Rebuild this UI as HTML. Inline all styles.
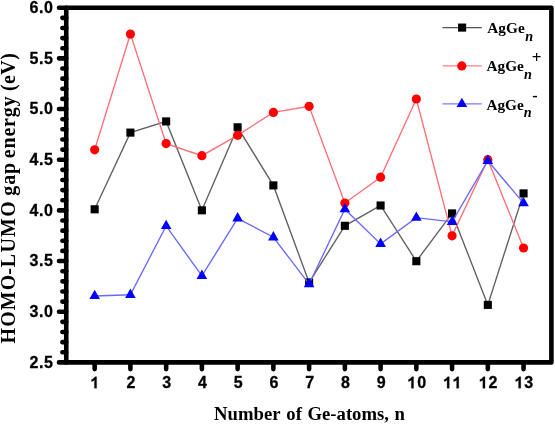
<!DOCTYPE html>
<html><head><meta charset="utf-8"><style>
html,body{margin:0;padding:0;background:#fff;}
body{width:555px;height:424px;overflow:hidden;}
svg{display:block;will-change:transform;filter:blur(0.35px);}
.tl{font-family:"Liberation Sans",sans-serif;font-weight:bold;font-size:16px;fill:#000;stroke:#000;stroke-width:0.3px;}
.ti{font-family:"Liberation Serif",serif;font-weight:bold;fill:#000;}
</style></head><body>
<svg width="555" height="424" viewBox="0 0 555 424">
<rect width="555" height="424" fill="#fff"/>

<polyline points="94.66,209.30 130.40,132.60 166.14,121.40 201.89,210.30 237.63,127.30 273.37,185.40 309.11,282.50 344.85,225.80 380.60,205.50 416.34,261.20 452.08,213.40 487.82,304.90 523.56,193.40" fill="none" stroke="#606060" stroke-width="1.35"/>
<rect x="90.61" y="205.25" width="8.1" height="8.1" fill="#000"/>
<rect x="126.35" y="128.55" width="8.1" height="8.1" fill="#000"/>
<rect x="162.09" y="117.35" width="8.1" height="8.1" fill="#000"/>
<rect x="197.84" y="206.25" width="8.1" height="8.1" fill="#000"/>
<rect x="233.58" y="123.25" width="8.1" height="8.1" fill="#000"/>
<rect x="269.32" y="181.35" width="8.1" height="8.1" fill="#000"/>
<rect x="305.06" y="278.45" width="8.1" height="8.1" fill="#000"/>
<rect x="340.80" y="221.75" width="8.1" height="8.1" fill="#000"/>
<rect x="376.55" y="201.45" width="8.1" height="8.1" fill="#000"/>
<rect x="412.29" y="257.15" width="8.1" height="8.1" fill="#000"/>
<rect x="448.03" y="209.35" width="8.1" height="8.1" fill="#000"/>
<rect x="483.77" y="300.85" width="8.1" height="8.1" fill="#000"/>
<rect x="519.51" y="189.35" width="8.1" height="8.1" fill="#000"/>
<polyline points="94.66,149.80 130.40,34.10 166.14,143.60 201.89,155.70 237.63,135.30 273.37,112.40 309.11,106.30 344.85,203.00 380.60,177.20 416.34,99.00 452.08,235.80 487.82,159.70 523.56,248.00" fill="none" stroke="#ff6e78" stroke-width="1.35"/>
<circle cx="94.66" cy="149.80" r="4.6" fill="#f00"/>
<circle cx="130.40" cy="34.10" r="4.6" fill="#f00"/>
<circle cx="166.14" cy="143.60" r="4.6" fill="#f00"/>
<circle cx="201.89" cy="155.70" r="4.6" fill="#f00"/>
<circle cx="237.63" cy="135.30" r="4.6" fill="#f00"/>
<circle cx="273.37" cy="112.40" r="4.6" fill="#f00"/>
<circle cx="309.11" cy="106.30" r="4.6" fill="#f00"/>
<circle cx="344.85" cy="203.00" r="4.6" fill="#f00"/>
<circle cx="380.60" cy="177.20" r="4.6" fill="#f00"/>
<circle cx="416.34" cy="99.00" r="4.6" fill="#f00"/>
<circle cx="452.08" cy="235.80" r="4.6" fill="#f00"/>
<circle cx="487.82" cy="159.70" r="4.6" fill="#f00"/>
<circle cx="523.56" cy="248.00" r="4.6" fill="#f00"/>
<polyline points="94.66,295.97 130.40,294.77 166.14,225.97 201.89,275.87 237.63,218.37 273.37,237.27 309.11,284.07 344.85,209.17 380.60,243.87 416.34,217.67 452.08,221.87 487.82,160.77 523.56,203.17" fill="none" stroke="#6868ff" stroke-width="1.35"/>
<path d="M94.66,289.70 L99.96,299.10 L89.36,299.10Z" fill="#00f"/>
<path d="M130.40,288.50 L135.70,297.90 L125.10,297.90Z" fill="#00f"/>
<path d="M166.14,219.70 L171.44,229.10 L160.84,229.10Z" fill="#00f"/>
<path d="M201.89,269.60 L207.19,279.00 L196.59,279.00Z" fill="#00f"/>
<path d="M237.63,212.10 L242.93,221.50 L232.33,221.50Z" fill="#00f"/>
<path d="M273.37,231.00 L278.67,240.40 L268.07,240.40Z" fill="#00f"/>
<path d="M309.11,277.80 L314.41,287.20 L303.81,287.20Z" fill="#00f"/>
<path d="M344.85,202.90 L350.15,212.30 L339.55,212.30Z" fill="#00f"/>
<path d="M380.60,237.60 L385.90,247.00 L375.30,247.00Z" fill="#00f"/>
<path d="M416.34,211.40 L421.64,220.80 L411.04,220.80Z" fill="#00f"/>
<path d="M452.08,215.60 L457.38,225.00 L446.78,225.00Z" fill="#00f"/>
<path d="M487.82,154.50 L493.12,163.90 L482.52,163.90Z" fill="#00f"/>
<path d="M523.56,196.90 L528.86,206.30 L518.26,206.30Z" fill="#00f"/>
<path d="M66.25,7.8 H551.4 V362.4 H66.25 Z" fill="none" stroke="#000" stroke-width="4.6" stroke-linejoin="round"/>
<path d="M59.0,362.40 H66.25 M62.4,352.27 H66.25 M62.4,342.13 H66.25 M62.4,332.00 H66.25 M62.4,321.86 H66.25 M59.0,311.73 H66.25 M62.4,301.59 H66.25 M62.4,291.46 H66.25 M62.4,281.33 H66.25 M62.4,271.19 H66.25 M59.0,261.06 H66.25 M62.4,250.92 H66.25 M62.4,240.79 H66.25 M62.4,230.65 H66.25 M62.4,220.52 H66.25 M59.0,210.39 H66.25 M62.4,200.25 H66.25 M62.4,190.12 H66.25 M62.4,179.98 H66.25 M62.4,169.85 H66.25 M59.0,159.71 H66.25 M62.4,149.58 H66.25 M62.4,139.45 H66.25 M62.4,129.31 H66.25 M62.4,119.18 H66.25 M59.0,109.04 H66.25 M62.4,98.91 H66.25 M62.4,88.77 H66.25 M62.4,78.64 H66.25 M62.4,68.51 H66.25 M59.0,58.37 H66.25 M62.4,48.24 H66.25 M62.4,38.10 H66.25 M62.4,27.97 H66.25 M62.4,17.83 H66.25 M59.0,7.70 H66.25 M94.66,362.4 V369.1 M130.40,362.4 V369.1 M166.14,362.4 V369.1 M201.89,362.4 V369.1 M237.63,362.4 V369.1 M273.37,362.4 V369.1 M309.11,362.4 V369.1 M344.85,362.4 V369.1 M380.60,362.4 V369.1 M416.34,362.4 V369.1 M452.08,362.4 V369.1 M487.82,362.4 V369.1 M523.56,362.4 V369.1" stroke="#000" stroke-width="4.6" stroke-linecap="round" fill="none"/>
<text class="tl" x="53.65" y="367.70" letter-spacing="0.65" text-anchor="end">2.5</text>
<text class="tl" x="53.65" y="317.03" letter-spacing="0.65" text-anchor="end">3.0</text>
<text class="tl" x="53.65" y="266.36" letter-spacing="0.65" text-anchor="end">3.5</text>
<text class="tl" x="53.65" y="215.69" letter-spacing="0.65" text-anchor="end">4.0</text>
<text class="tl" x="53.65" y="165.01" letter-spacing="0.65" text-anchor="end">4.5</text>
<text class="tl" x="53.65" y="114.34" letter-spacing="0.65" text-anchor="end">5.0</text>
<text class="tl" x="53.65" y="63.67" letter-spacing="0.65" text-anchor="end">5.5</text>
<text class="tl" x="53.65" y="13.00" letter-spacing="0.65" text-anchor="end">6.0</text>
<path transform="translate(90.71,388.2) scale(0.007812,-0.007812)" stroke="#000" stroke-width="38" d="M752,0 L478,0 L478,1055 Q330,918 104,852 L104,1105 Q223,1144 360,1250 Q497,1356 548,1466 L752,1466 Z"/>
<text class="tl" x="126.45" y="388.2">2</text>
<text class="tl" x="162.19" y="388.2">3</text>
<text class="tl" x="197.94" y="388.2">4</text>
<text class="tl" x="233.68" y="388.2">5</text>
<text class="tl" x="269.42" y="388.2">6</text>
<text class="tl" x="305.16" y="388.2">7</text>
<text class="tl" x="340.90" y="388.2">8</text>
<text class="tl" x="376.65" y="388.2">9</text>
<path transform="translate(407.64,388.2) scale(0.007812,-0.007812)" stroke="#000" stroke-width="38" d="M752,0 L478,0 L478,1055 Q330,918 104,852 L104,1105 Q223,1144 360,1250 Q497,1356 548,1466 L752,1466 Z"/>
<text class="tl" x="417.14" y="388.2">0</text>
<path transform="translate(443.38,388.2) scale(0.007812,-0.007812)" stroke="#000" stroke-width="38" d="M752,0 L478,0 L478,1055 Q330,918 104,852 L104,1105 Q223,1144 360,1250 Q497,1356 548,1466 L752,1466 Z"/>
<path transform="translate(452.88,388.2) scale(0.007812,-0.007812)" stroke="#000" stroke-width="38" d="M752,0 L478,0 L478,1055 Q330,918 104,852 L104,1105 Q223,1144 360,1250 Q497,1356 548,1466 L752,1466 Z"/>
<path transform="translate(479.12,388.2) scale(0.007812,-0.007812)" stroke="#000" stroke-width="38" d="M752,0 L478,0 L478,1055 Q330,918 104,852 L104,1105 Q223,1144 360,1250 Q497,1356 548,1466 L752,1466 Z"/>
<text class="tl" x="488.62" y="388.2">2</text>
<path transform="translate(514.87,388.2) scale(0.007812,-0.007812)" stroke="#000" stroke-width="38" d="M752,0 L478,0 L478,1055 Q330,918 104,852 L104,1105 Q223,1144 360,1250 Q497,1356 548,1466 L752,1466 Z"/>
<text class="tl" x="524.36" y="388.2">3</text>
<text class="ti" font-size="18.7" x="214.1" y="419.8">Number</text>
<text class="ti" font-size="18.7" x="286.3" y="419.8">of</text>
<text class="ti" font-size="18.7" x="307.5" y="419.8">Ge-atoms,</text>
<text class="ti" font-size="18.7" x="394.4" y="419.8">n</text>
<g transform="translate(15.3,343.2) rotate(-90)">
<text class="ti" font-size="20" letter-spacing="1.03" x="-0.2" y="0">HOMO</text>
<text class="ti" font-size="20" letter-spacing="0" x="68.4" y="0">-</text>
<text class="ti" font-size="20" letter-spacing="1.27" x="76" y="0">LUMO</text>
<text class="ti" font-size="20" letter-spacing="0.95" x="147.4" y="0">gap</text>
<text class="ti" font-size="20" letter-spacing="0.8" x="185" y="0">energy</text>
<text class="ti" font-size="20" letter-spacing="0.4" x="252.2" y="0">(eV)</text>
</g>
<line x1="442.5" y1="27.6" x2="481.8" y2="27.6" stroke="#555" stroke-width="1.2"/>
<rect x="458.05" y="23.55" width="8.1" height="8.1" fill="#000"/>
<line x1="442.5" y1="65.9" x2="481.8" y2="65.9" stroke="#ff7a84" stroke-width="1.2"/>
<circle cx="461.8" cy="65.9" r="4.6" fill="#f00"/>
<line x1="442.5" y1="103.9" x2="481.8" y2="103.9" stroke="#7a7aff" stroke-width="1.2"/>
<path d="M461.90,97.63 L467.20,107.03 L456.60,107.03Z" fill="#00f"/>
<text class="ti" font-size="15.3" x="487.3" y="33.0">AgGe</text>
<text class="ti" font-size="14.2" font-style="italic" x="525.2" y="40.6">n</text>
<text class="ti" font-size="15.3" x="486.5" y="71.0">AgGe</text>
<text class="ti" font-size="14.2" font-style="italic" x="524.1" y="78.7">n</text>
<text class="ti" font-size="15.3" x="486.4" y="109.8">AgGe</text>
<text class="ti" font-size="14.2" font-style="italic" x="523.7" y="116.9">n</text>
<text class="ti" font-size="17" x="531.7" y="62.7">+</text>
<text class="ti" font-size="16" x="532.2" y="101.0">-</text>
</svg></body></html>
